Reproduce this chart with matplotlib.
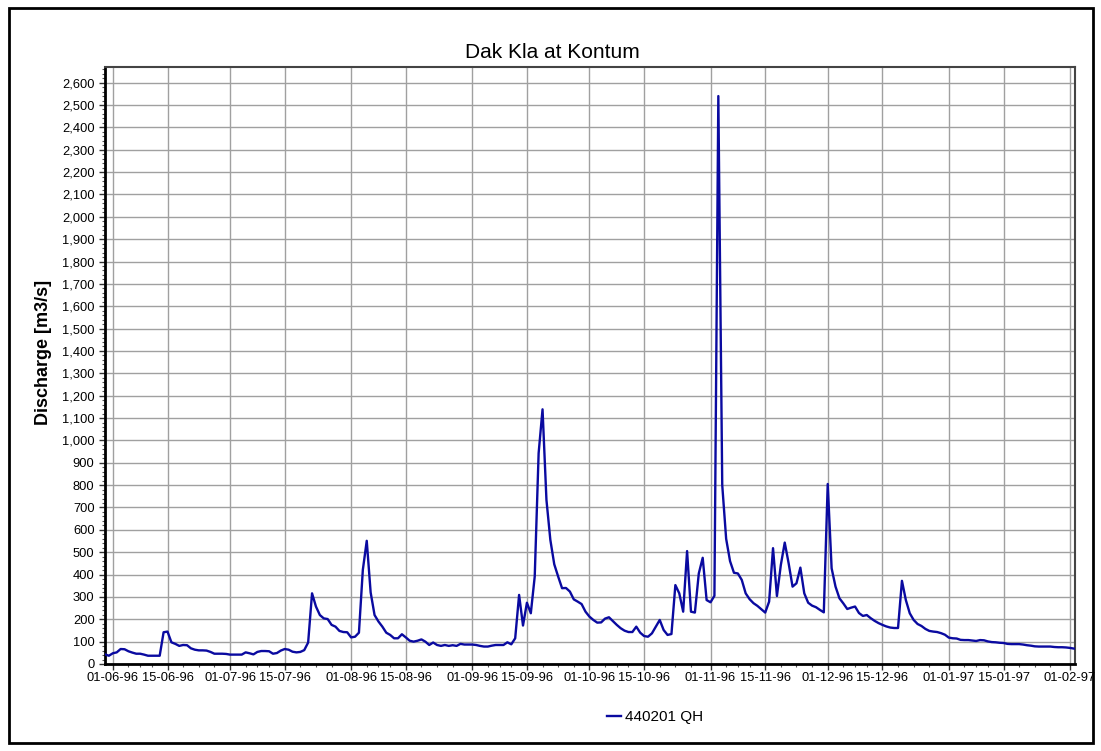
import matplotlib
matplotlib.use("Agg")
import matplotlib.pyplot as plt
import matplotlib.dates as mdates
from matplotlib.ticker import MultipleLocator, FuncFormatter
from matplotlib.patches import Rectangle
import numpy as np

plt.rcParams['font.family'] = ['Liberation Sans', 'DejaVu Sans']

# daily discharge [m3/s], station 440201 (Dak Kla at Kontum), from 30-05-1996
may_tail = [43, 37]
jun = [48, 52, 67, 66, 57, 51, 46, 46, 42, 37, 37, 37, 37, 142, 145, 97, 90, 81, 85, 84,
       70, 64, 61, 61, 60, 54, 46, 46, 46, 45]
jul = [42, 42, 42, 42, 52, 48, 43, 54, 58, 58, 57, 46, 49, 60, 67, 64, 55, 52, 54, 62,
       96, 316, 257, 219, 204, 201, 175, 167, 148, 143, 142]
aug = [119, 122, 140, 421, 551, 320, 219, 190, 167, 140, 130, 115, 115, 133, 119, 104, 100, 104, 110, 100,
       85, 96, 85, 81, 85, 81, 84, 81, 90, 87, 87]
sep = [87, 85, 81, 78, 78, 82, 85, 85, 85, 97, 88, 115, 309, 172, 274, 227, 391, 943, 1139, 734,
       555, 446, 391, 339, 340, 324, 289, 279, 268, 234]
oct_ = [212, 197, 185, 186, 203, 209, 192, 175, 160, 149, 143, 143, 167, 140, 125, 122, 137, 167, 197, 152,
        130, 134, 353, 316, 234, 505, 234, 230, 405, 475, 286]
nov = [276, 305, 2540, 800, 560, 460, 408, 405, 376, 316, 290, 272, 260, 245, 230, 279, 518, 304, 443, 543,
       450, 346, 361, 431, 316, 274, 261, 254, 242, 231]
dec = [805, 428, 346, 294, 271, 246, 252, 257, 228, 215, 219, 205, 193, 183, 175, 168, 163, 161, 161, 372,
       286, 227, 197, 179, 170, 157, 148, 145, 143, 138, 131]
jan = [118, 115, 114, 108, 107, 107, 105, 103, 107, 106, 101, 98, 97, 95, 94, 90, 89, 89, 89, 87,
       84, 82, 79, 78, 78, 78, 78, 76, 75, 75, 74]
feb = [72, 69]

q = np.array(may_tail + jun + jul + aug + sep + oct_ + nov + dec + jan + feb, dtype=float)
t = np.arange(np.datetime64('1996-05-30'), np.datetime64('1996-05-30') + len(q), dtype='datetime64[D]')
t = t.astype('datetime64[s]').astype(object)

W, H = 1101, 751
fig = plt.figure(figsize=(W / 100, H / 100), dpi=100)
ax = fig.add_axes([105 / W, 1 - 664 / H, 970 / W, 597 / H])

ax.plot(t, q, color='#0a0aa0', lw=1.7, label='440201 QH', zorder=3)

ax.set_xlim(mdates.datestr2num('1996-05-30'), mdates.datestr2num('1997-02-02') + 0.3)
ax.set_ylim(0, 2670)

# x ticks on the 1st and 15th, minor ticks in between
ax.xaxis.set_major_locator(mdates.DayLocator(bymonthday=[1, 15]))
ax.xaxis.set_minor_locator(mdates.DayLocator(bymonthday=[5, 8, 11, 19, 23, 27]))
ax.xaxis.set_major_formatter(mdates.DateFormatter('%d-%m-%y'))
ax.yaxis.set_major_locator(MultipleLocator(100))
ax.yaxis.set_minor_locator(MultipleLocator(20))
ax.yaxis.set_major_formatter(FuncFormatter(lambda v, p: f'{int(v):,}'))

ax.grid(True, which='major', color='#a0a0a0', lw=1.0)
ax.tick_params(which='major', length=4, width=1, labelsize=9.3, color='#333333')
ax.tick_params(which='minor', length=2, width=0.8, color='#555555')
ax.tick_params(axis='x', pad=2)

for s in ['left', 'bottom']:
    ax.spines[s].set_linewidth(2)
    ax.spines[s].set_color('black')
for s in ['right', 'top']:
    ax.spines[s].set_linewidth(1.5)
    ax.spines[s].set_color('#444444')

fig.text(552 / W, 1 - 58 / H, 'Dak Kla at Kontum', fontsize=15, ha='center', va='baseline')
ax.set_ylabel('Discharge [m3/s]', fontsize=13, fontweight='bold')
ax.yaxis.set_label_coords((52 - 105) / 970, (664 - 352) / 597)

fig.legend(loc='center', bbox_to_anchor=(655 / W, 1 - 717 / H), frameon=False,
           fontsize=11, handlelength=0.9, handletextpad=0.3)

# outer frame
fig.add_artist(Rectangle((9 / W, 8 / H), 1084 / W, 735 / H, transform=fig.transFigure,
                         fill=False, lw=2, ec='black'))

fig.savefig('out.png', dpi=100)
